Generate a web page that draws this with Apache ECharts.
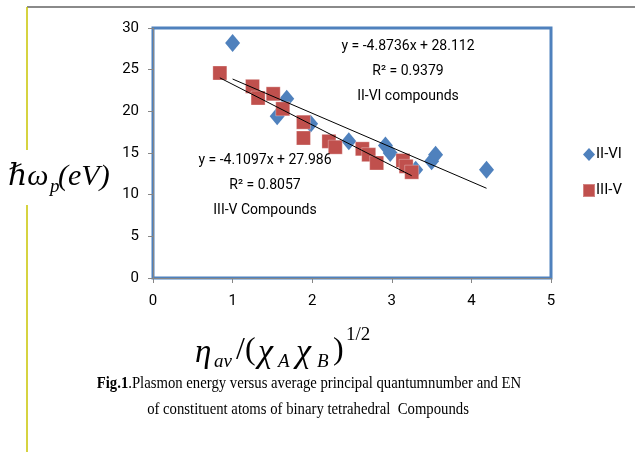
<!DOCTYPE html>
<html>
<head>
<meta charset="utf-8">
<script src="https://cdn.jsdelivr.net/npm/echarts@6/dist/echarts.min.js"></script>
<style>
html,body{margin:0;padding:0;background:#fff;}
#c{width:635px;height:452px;}
</style>
</head>
<body>
<div id="c"></div>
<script>
// ---- data ----
var seriesNames = ['II-VI', 'III-V'];
var xIIVI = [1.00, 1.56, 1.68, 1.98, 2.46, 2.92, 2.98, 3.30, 3.50, 3.55, 4.19];
var yIIVI = [28.2, 19.4, 21.5, 18.5, 16.4, 15.9, 15.0, 13.0, 14.0, 14.8, 13.0];
var xIIIV = [0.84, 1.25, 1.32, 1.51, 1.63, 1.89, 1.89, 2.21, 2.29, 2.63, 2.71, 2.81, 3.14, 3.18, 3.25];
var yIIIV = [24.6, 23.0, 21.6, 22.1, 20.3, 18.7, 16.8, 16.4, 15.7, 15.5, 14.8, 13.8, 14.1, 13.4, 12.7];
// trendline coefficients [slope, intercept] as drawn
var trendIIVI = [-4.1097, 27.986];
var trendIIIV = [-4.8736, 28.112];
var xTicks = [0, 1, 2, 3, 4, 5];
var yTicks = [0, 5, 10, 15, 20, 25, 30];
var labelUpper = ['y = -4.8736x + 28.112', 'R\u00b2 = 0.9379', 'II-VI compounds'];
var labelLower = ['y = -4.1097x + 27.986', 'R\u00b2 = 0.8057', 'III-V Compounds'];
var caption1 = 'Plasmon energy versus average principal quantumnumber and EN';
var caption2 = 'of constituent atoms of binary tetrahedral  Compounds';

function zip(xs, ys) { return xs.map(function (x, i) { return [x, ys[i]]; }); }
function trend(xs, c) {
  var lo = Math.min.apply(null, xs), hi = Math.max.apply(null, xs);
  return [[lo, c[0] * lo + c[1]], [hi, c[0] * hi + c[1]]];
}

var sans = 'Roboto, "Liberation Sans", sans-serif';
var serif = '"Liberation Serif", "DejaVu Serif", serif';

function lbl(x, y, t) {
  return {type: 'text', x: x, y: y, z: 10, silent: true,
    style: {text: t, fontSize: 14, fontFamily: sans, fill: '#000', align: 'center', verticalAlign: 'middle'}};
}
function mt(x, y, t, size, italic) {
  return {type: 'text', x: x, y: y, silent: true,
    style: {text: t, fontSize: size, fontFamily: serif, fontStyle: italic ? 'italic' : 'normal', fill: '#000', verticalAlign: 'middle'}};
}

var chart = echarts.init(document.getElementById('c'), null, {renderer: 'canvas'});
var opt = {
  backgroundColor: '#ffffff',
  animation: false,
  grid: {left: 153, right: 84, top: 28, bottom: 174, show: true, borderColor: '#4f81bd', borderWidth: 3, backgroundColor: 'transparent'},
  xAxis: {
    type: 'value', min: 0, max: 5, interval: 1,
    axisLine: {show: true, onZero: false, lineStyle: {color: '#868686', width: 1}},
    axisTick: {show: true, length: 5, lineStyle: {color: '#868686'}},
    splitLine: {show: false},
    axisLabel: {margin: 16, color: '#000', fontSize: 15, fontFamily: sans,
      formatter: function (v) { return xTicks.indexOf(v) >= 0 ? String(v) : ''; }}
  },
  yAxis: {
    type: 'value', min: 0, max: 30, interval: 5,
    axisLine: {show: true, onZero: false, lineStyle: {color: '#868686', width: 1}},
    axisTick: {show: true, length: 5, lineStyle: {color: '#868686'}},
    splitLine: {show: false},
    axisLabel: {margin: 14, color: '#000', fontSize: 15, fontFamily: sans,
      formatter: function (v) { return yTicks.indexOf(v) >= 0 ? String(v) : ''; }}
  },
  legend: {
    orient: 'vertical', left: 577, top: 142, itemGap: 21,
    itemWidth: 12, itemHeight: 13,
    textStyle: {fontSize: 15, fontFamily: sans, color: '#000', padding: [0, 0, 0, -4]},
    data: [{name: seriesNames[0], icon: 'diamond'}, {name: seriesNames[1], icon: 'rect'}]
  },
  series: [
    {name: seriesNames[0], type: 'scatter', data: zip(xIIVI, yIIVI), symbol: 'diamond', symbolSize: [15, 18],
      itemStyle: {color: '#4f81bd', opacity: 1}, z: 3},
    {name: seriesNames[1], type: 'scatter', data: zip(xIIIV, yIIIV), symbol: 'rect', symbolSize: [14, 14],
      itemStyle: {color: '#c0504d', opacity: 1, borderColor: 'rgba(255,255,255,0.3)', borderWidth: 1}, z: 4},
    {name: 't1', type: 'line', data: trend(xIIVI, trendIIVI), symbol: 'none', silent: true,
      lineStyle: {color: '#000', width: 1}, z: 6},
    {name: 't2', type: 'line', data: trend(xIIIV, trendIIIV), symbol: 'none', silent: true,
      lineStyle: {color: '#000', width: 1}, z: 6}
  ],
  graphic: [
    {type: 'line', shape: {x1: 27, y1: 7, x2: 635, y2: 7}, style: {stroke: '#8a8a8a', lineWidth: 2}, silent: true},
    {type: 'line', shape: {x1: 27, y1: 7, x2: 27, y2: 150}, style: {stroke: '#c8c400', lineWidth: 1.5}, silent: true},
    {type: 'line', shape: {x1: 27, y1: 205, x2: 27, y2: 452}, style: {stroke: '#c8c400', lineWidth: 1.5}, silent: true},
    // trendline labels
    lbl(408, 46, labelUpper[0]), lbl(408, 71, labelUpper[1]), lbl(408, 96, labelUpper[2]),
    lbl(265, 160, labelLower[0]), lbl(265, 185, labelLower[1]), lbl(265, 210, labelLower[2]),
    // y axis title
    mt(8, 177, '\u210f\u03c9', 30, true),
    mt(50, 187, 'p', 19, true),
    mt(58, 177, '(eV)', 30, true),
    // x axis title
    mt(195, 353, '\u03b7', 33, true),
    mt(214, 362, 'av', 19, true),
    mt(236, 351, '/(', 32, false),
    mt(258, 353, '\u03c7', 34, true),
    mt(278, 362, 'A', 19, true),
    mt(296, 353, '\u03c7', 34, true),
    mt(317, 362, 'B', 19, true),
    mt(333, 351, ')', 32, false),
    mt(346, 335, '1/2', 19, false),
    // caption
    {type: 'text', x: 309, y: 384, scaleX: 0.92, originX: 0, silent: true, style: {
      text: '{b|Fig.1}{n|.' + caption1 + '}', align: 'center', verticalAlign: 'middle',
      rich: {b: {fontSize: 16, fontFamily: serif, fontWeight: 'bold', fill: '#000'}, n: {fontSize: 16, fontFamily: serif, fill: '#000'}}}},
    {type: 'text', x: 308, y: 410, scaleX: 0.92, originX: 0, silent: true,
      style: {text: caption2, fontSize: 16, fontFamily: serif, fill: '#000', align: 'center', verticalAlign: 'middle'}}
  ]
};
chart.setOption(opt);
</script>
</body>
</html>
